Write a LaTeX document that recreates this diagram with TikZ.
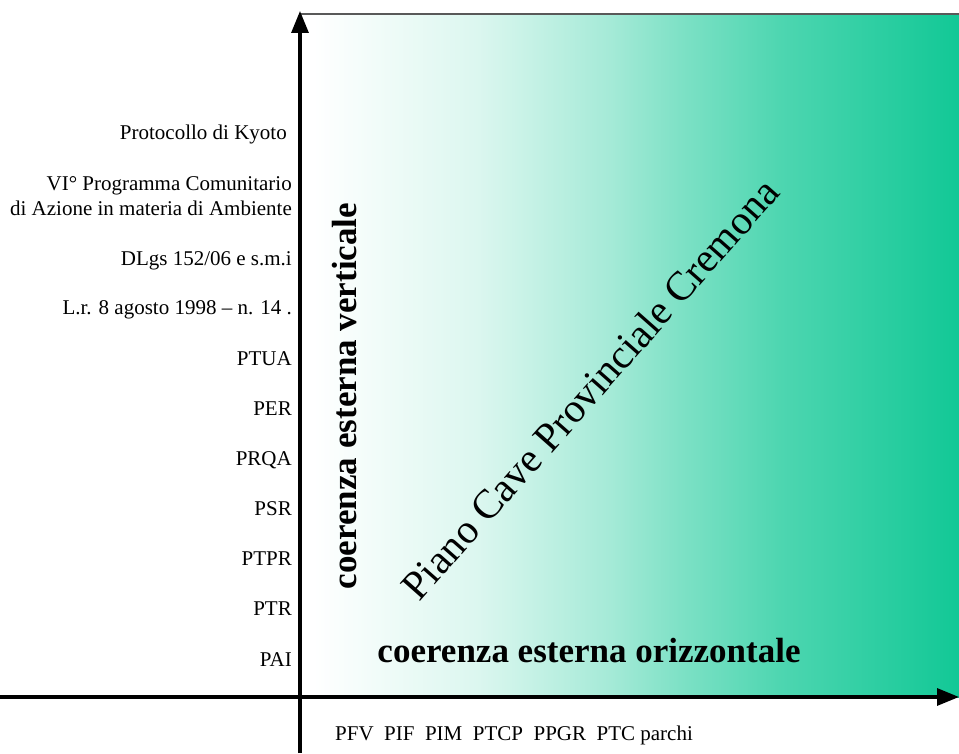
\documentclass[tikz,border=0pt]{standalone}
\usepackage{fontspec}
\setmainfont{Liberation Serif}
\usetikzlibrary{arrows.meta}

\definecolor{cavegreen}{RGB}{18,200,150}
\pgfdeclarehorizontalshading{cavegrad}{100bp}{color(0bp)=(white); color(26bp)=(white);
    color(38.5bp)=(cavegreen!15); color(48.5bp)=(cavegreen!38); color(54bp)=(cavegreen!55);
    color(61.5bp)=(cavegreen!75); color(75bp)=(cavegreen); color(100bp)=(cavegreen)}

\tikzset{
    axisarrow/.style={line width=3.2pt, -{Triangle[length=22pt,width=17pt]}},
    plan/.style={font=\fontsize{21}{25}\selectfont, anchor=base east, inner sep=0pt},
    axistitle/.style={font=\fontsize{35}{40}\selectfont\bfseries, inner sep=0pt}
}

\begin{document}
\begin{tikzpicture}[x=1pt, y=1pt]
    \useasboundingbox (0,0) rectangle (959,753);

    % Shaded field
    \coordinate (O) at (300,56);
    \coordinate (T) at (959,739);
    \shade[shading=cavegrad] (O) rectangle (T);
    \draw[line width=1.2pt, black!65] (O |- T) -- (T);

    % Axes
    \coordinate (Xstart) at (0,56);
    \coordinate (Xend) at (959,56);
    \coordinate (Ystart) at (300,0);
    \coordinate (Yend) at (300,742);
    \draw[axisarrow] (Xstart) -- (Xend);
    \draw[axisarrow] (Ystart) -- (Yend);

    % Vertical plans
    \node[plan] (kyoto) at (287,613) {Protocollo di Kyoto};
    \node[plan] (vipca) at (292,562) {VI° Programma Comunitario};
    \node[plan] (azione) at (292,537) {di Azione in materia di Ambiente};
    \node[plan] (dlgs) at (292,487) {DLgs 152/06 e s.m.i};
    \node[plan] (lr) at (292,438) {L.r. 8 agosto 1998 -- n. 14 .};
    \foreach \name/\yy in {PTUA/387, PER/337, PRQA/287, PSR/237, PTPR/187, PTR/137, PAI/87}
        \node[plan] (\name) at (292,\yy) {\name};

    % Horizontal plans
    \node[plan, anchor=base west] (orizplans) at (335,13) {PFV\ \ PIF\ \ PIM\ \ PTCP\ \ PPGR\ \ PTC parchi};

    % Axis titles
    \node[axistitle, rotate=90] (vert) at (345,357) {coerenza esterna verticale};
    \node[axistitle, anchor=base] (oriz) at (589,91) {coerenza esterna orizzontale};

    % Plan title
    \node[rotate=48.5, font=\fontsize{41}{48}\selectfont] (piano) at (590,364) {Piano Cave Provinciale Cremona};

\end{tikzpicture}
\end{document}
